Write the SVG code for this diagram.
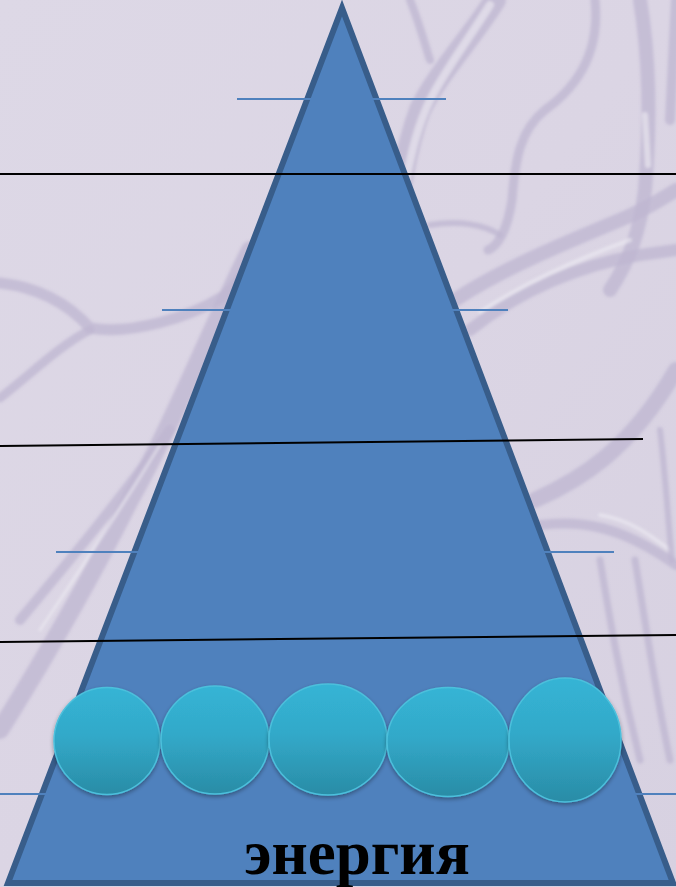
<svg xmlns="http://www.w3.org/2000/svg" width="676" height="887" viewBox="0 0 676 887">
  <defs>
    <linearGradient id="bg" x1="0" y1="0" x2="1" y2="1">
      <stop offset="0" stop-color="#ddd8e6"/>
      <stop offset="0.5" stop-color="#dbd5e4"/>
      <stop offset="1" stop-color="#d7d1e1"/>
    </linearGradient>
    <linearGradient id="ball" x1="0" y1="0" x2="0" y2="1">
      <stop offset="0" stop-color="#35b4d5"/>
      <stop offset="0.45" stop-color="#32a9c9"/>
      <stop offset="1" stop-color="#2a8ca6"/>
    </linearGradient>
    <filter id="sh" x="-20%" y="-20%" width="140%" height="140%">
      <feGaussianBlur in="SourceAlpha" stdDeviation="2"/>
      <feOffset dx="0" dy="2" result="b"/>
      <feComponentTransfer><feFuncA type="linear" slope="0.35"/></feComponentTransfer>
      <feMerge><feMergeNode/><feMergeNode in="SourceGraphic"/></feMerge>
    </filter>
    <filter id="blur1"><feGaussianBlur stdDeviation="1.5"/></filter>
  </defs>
  <style>
    .vein { fill: none; stroke: #bdb5d0; stroke-linecap: round; opacity: 0.75; }
    .hl { fill: none; stroke: #efecf4; stroke-linecap: round; opacity: 0.6; }
    .blue { stroke: #4f81bd; stroke-width: 2; fill: none; }
    .black { stroke: #000; stroke-width: 2; fill: none; }
    .ball { fill: url(#ball); stroke: #4cc0dc; stroke-width: 1.5; filter: url(#sh); }
  </style>

  <rect width="676" height="887" fill="url(#bg)"/>

  <g id="background-veins" filter="url(#blur1)">
    <path class="vein" stroke-width="11" d="M0,283 C35,287 65,300 90,328 C130,335 190,318 225,295 C238,284 248,268 255,250"/>
    <path class="vein" stroke-width="9" d="M90,330 C60,345 30,375 0,398"/>
    <path class="vein" stroke-width="18" d="M250,250 C210,330 175,420 130,500 C90,580 50,650 0,730"/>
    <path class="vein" stroke-width="10" d="M170,430 C120,500 70,560 20,620"/>
    <path class="hl" stroke-width="3" d="M160,445 C120,510 80,570 40,630"/>
    <path class="vein" stroke-width="22" d="M495,0 C470,40 440,70 420,110 C405,150 398,200 390,260"/>
    <path class="hl" stroke-width="8" d="M490,5 C468,40 445,70 430,100 C418,125 412,150 406,180"/>
    <path class="vein" stroke-width="8" d="M410,0 C420,25 425,45 430,60"/>
    <path class="vein" stroke-width="9" d="M595,0 C600,50 580,85 545,110 C520,130 515,160 512,200 C508,225 500,245 488,250"/>
    <path class="vein" stroke-width="6" d="M430,225 C460,220 485,225 500,235"/>
    <path class="vein" stroke-width="14" d="M640,0 C650,60 650,130 645,190 C640,230 630,260 610,290"/>
    <path class="hl" stroke-width="6" d="M645,115 L648,165"/>
    <path class="vein" stroke-width="10" d="M676,0 L670,120"/>
    <path class="vein" stroke-width="14" d="M455,300 C500,270 560,245 620,220 C645,210 660,200 676,190"/>
    <path class="vein" stroke-width="12" d="M470,330 C520,290 580,265 640,255 L676,250"/>
    <path class="hl" stroke-width="4" d="M480,312 C530,280 580,258 630,240"/>
    <path class="vein" stroke-width="16" d="M535,500 C580,480 630,450 676,370"/>
    <path class="vein" stroke-width="10" d="M540,525 C580,520 620,525 676,565"/>
    <path class="hl" stroke-width="4" d="M600,515 C630,520 650,535 670,550"/>
    <path class="vein" stroke-width="7" d="M600,560 C610,620 620,680 640,760"/>
    <path class="vein" stroke-width="7" d="M635,560 C645,620 655,690 670,760"/>
    <path class="vein" stroke-width="6" d="M660,430 C665,470 668,520 672,560"/>
  </g>

  <g id="pyramid">
    <polygon points="342,8 8,883 673,883" fill="#4f81bd" stroke="#385d8a" stroke-width="6" stroke-linejoin="miter"/>
  </g>

  <g id="connectors">
    <line class="blue" x1="237" y1="99" x2="446" y2="99"/>
    <line class="blue" x1="162" y1="310" x2="508" y2="310"/>
    <line class="blue" x1="56" y1="552" x2="614" y2="552"/>
    <line class="blue" x1="0" y1="794" x2="676" y2="794"/>
    <line class="black" x1="0" y1="174" x2="676" y2="174"/>
    <line class="black" x1="0" y1="446" x2="643" y2="439"/>
    <line class="black" x1="0" y1="642" x2="676" y2="635"/>
  </g>

  <g id="ball1"><ellipse class="ball" cx="107" cy="741" rx="53" ry="53.5"/></g>
  <g id="ball2"><ellipse class="ball" cx="215" cy="740" rx="54" ry="54"/></g>
  <g id="ball3"><ellipse class="ball" cx="328" cy="739.5" rx="59" ry="55.5"/></g>
  <g id="ball4"><ellipse class="ball" cx="448" cy="742" rx="61" ry="54.5"/></g>
  <g id="ball5"><ellipse class="ball" cx="565" cy="740" rx="56" ry="62"/></g>

  <g id="label">
    <text x="357" y="874" text-anchor="middle" font-family="'Liberation Serif', 'Times New Roman', serif" font-weight="bold" font-size="63" fill="#000">энергия</text>
  </g>
</svg>
